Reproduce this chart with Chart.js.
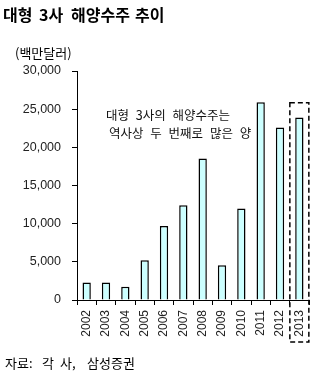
<!DOCTYPE html>
<html>
<head>
<meta charset="utf-8">
<script src="https://cdn.jsdelivr.net/npm/chart.js@4"></script>
<style>
  body { margin: 0; background: #fff; }
  canvas { display: block; }
</style>
</head>
<body>
<canvas id="grafico" width="319" height="382"></canvas>
<script>
const years = ["2002", "2003", "2004", "2005", "2006", "2007", "2008", "2009", "2010", "2011", "2012", "2013"]
const orders = [2300, 2300, 1750, 5200, 9700, 12400, 18550, 4550, 12000, 25900, 22600, 23900]
const yTicks = [0, 5000, 10000, 15000, 20000, 25000, 30000]

const titleWords = ["대형", "3사", "해양수주", "추이"]
const unit = "(백만달러)"
const note = ["대형 3사의 해양수주는", "역사상 두 번째로 많은 양"]
const sourceWords = ["자료:", "각", "사,", "삼성증권"]

const krFont = '"Noto Sans CJK KR", sans-serif'

// titles, notes and the dashed box around 2013
const extras = {
  id: "extras",
  afterDraw(chart) {
    const ctx = chart.ctx
    const x = chart.scales.x
    const y = chart.scales.y
    ctx.save()
    ctx.fillStyle = "#000"
    ctx.textBaseline = "middle"
    ctx.textAlign = "left"

    ctx.font = "bold 16px " + krFont
    const titleX = [3, 39, 71, 135]
    titleWords.forEach((w, i) => ctx.fillText(w, titleX[i], 15))

    ctx.font = "13px " + krFont
    ctx.fillText(unit, 15, 53)

    ctx.font = "12.5px " + krFont
    ctx.wordSpacing = "4px"
    ctx.fillStyle = "#111"
    ctx.fillText(note[0], 106, 115)
    ctx.fillText(note[1], 109, 133)
    ctx.wordSpacing = "0px"

    ctx.fillStyle = "#000"
    ctx.font = "13px " + krFont
    const srcX = [5, 42, 60, 87]
    sourceWords.forEach((w, i) => ctx.fillText(w, srcX[i], 363))

    // dashed box
    const last = years.length - 1
    const cx = x.getPixelForValue(last)
    const top = y.getPixelForValue(25850)
    ctx.setLineDash([5, 3])
    ctx.lineWidth = 1.5
    ctx.strokeStyle = "#000"
    ctx.strokeRect(cx - 9.5, top, 19, y.bottom + 42 - top)
    ctx.restore()
  },
}

const data = {
  labels: years,
  datasets: [
    {
      label: "해양수주",
      data: orders,
      backgroundColor: "#ccffff",
      borderColor: "#000",
      borderWidth: 1.5,
      borderSkipped: "bottom",
      barPercentage: 0.43,
      categoryPercentage: 1,
    },
  ],
}

const config = {
  type: "bar",
  data: data,
  plugins: [extras],
  options: {
    responsive: false,
    animation: false,
    layout: { padding: { top: 71, left: 0, right: 6, bottom: 0 } },
    plugins: {
      legend: { display: false },
      title: { display: false },
      tooltip: { enabled: false },
    },
    scales: {
      x: {
        afterFit(scale) { scale.height = 82 },
        grid: {
          offset: true,
          drawOnChartArea: false,
          drawTicks: true,
          tickLength: 5,
          color: "#000",
        },
        border: { display: true, color: "#000", width: 1 },
        ticks: {
          color: "#222",
          font: { family: "Liberation Sans, Arial", size: 12 },
          minRotation: 90,
          maxRotation: 90,
          padding: 5,
        },
      },
      y: {
        min: 0,
        max: 30000,
        afterFit(scale) { scale.width = 77 },
        afterBuildTicks(scale) { scale.ticks = yTicks.map(v => ({ value: v })) },
        grid: {
          drawOnChartArea: false,
          drawTicks: true,
          tickLength: 5,
          color: "#000",
        },
        border: { display: true, color: "#000", width: 1 },
        ticks: {
          color: "#222",
          font: { family: "Liberation Sans, Arial", size: 12.5 },
          padding: 11,
          callback: v => v.toLocaleString("en-US"),
        },
      },
    },
  },
}

new Chart(document.querySelector("#grafico"), config)
</script>
</body>
</html>
